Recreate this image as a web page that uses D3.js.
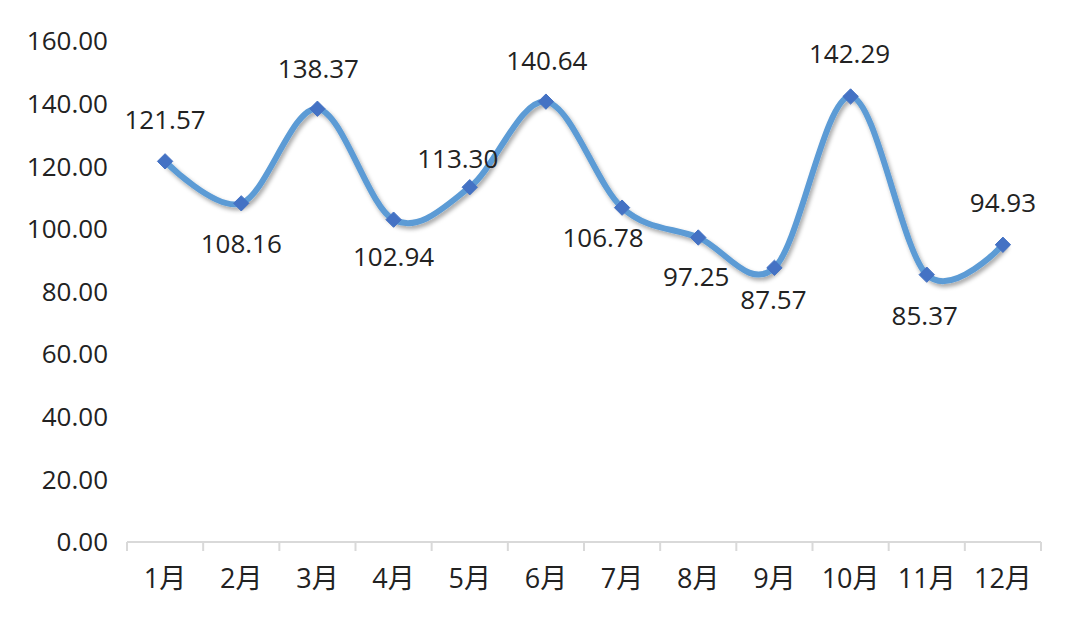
<!DOCTYPE html>
<html><head><meta charset="utf-8">
<script src="https://cdn.jsdelivr.net/npm/d3@7"></script>
<style>
html,body{margin:0;padding:0;background:#fff;}
svg{display:block;font-family:"Open Sans","Noto Sans CJK SC",sans-serif;}
</style></head>
<body>
<svg id="chart" width="1080" height="623"></svg>
<script>
const months = ["1月","2月","3月","4月","5月","6月","7月","8月","9月","10月","11月","12月"];
const values = [121.57,108.16,138.37,102.94,113.30,140.64,106.78,97.25,87.57,142.29,85.37,94.93];
const yTicks = [0,20,40,60,80,100,120,140,160];
// label placement (dx, dy from marker, px)
const labelOffsets = [[0,-42],[0,40],[1,-40],[0,37],[-12,-29],[1,-41],[-19,30],[-2,39],[-1,32],[-1,-43],[-2,41],[0,-42]];

const svg = d3.select("#chart");
const margin = {left:127, right:39, top:41, bottom:81};
const W = 1080, H = 623;
const x = d3.scaleBand().domain(months).range([margin.left, W - margin.right]).padding(0);
const y = d3.scaleLinear().domain([0,160]).range([H - margin.bottom, margin.top]);

const defs = svg.append("defs");
const f = defs.append("filter").attr("id","sh").attr("x","-10%").attr("y","-10%").attr("width","120%").attr("height","130%");
f.append("feDropShadow").attr("dx",2).attr("dy",3).attr("stdDeviation",2).attr("flood-color","#000").attr("flood-opacity",0.35);

// y axis labels
svg.append("g").selectAll("text").data(yTicks).join("text")
  .attr("x", 108).attr("y", d => y(d)).attr("dy","0.36em")
  .attr("text-anchor","end").attr("font-size",26).attr("fill","#222")
  .text(d => d.toFixed(2));

// x axis
const xAxis = svg.append("g").attr("transform",`translate(0,${y(0)})`);
xAxis.append("line").attr("x1",margin.left).attr("x2",W-margin.right).attr("stroke","#d9d9d9").attr("stroke-width",2);
const bounds = months.map(m => x(m)).concat([x(months[months.length-1]) + x.bandwidth()]);
xAxis.selectAll("line.t").data(bounds).join("line").attr("class","t")
  .attr("x1",d=>d).attr("x2",d=>d).attr("y1",0).attr("y2",9).attr("stroke","#d9d9d9").attr("stroke-width",2);
xAxis.selectAll("text").data(months).join("text")
  .attr("x", d => x(d) + x.bandwidth()/2).attr("y", 36)
  .attr("dy","0.36em")
  .attr("text-anchor","middle").attr("font-size",27).attr("fill","#222")
  .text(d => d);

const pts = months.map((m,i) => [x(m)+x.bandwidth()/2, y(values[i])]);
const line = d3.line().curve(d3.curveCatmullRom.alpha(0));
svg.append("path").attr("d", line(pts)).attr("fill","none")
  .attr("stroke","#5B9BD5").attr("stroke-width",6).attr("stroke-linecap","round")
  .attr("filter","url(#sh)");

const sym = d3.symbol().type(d3.symbolDiamond2).size(150);
svg.append("g").selectAll("path").data(pts).join("path")
  .attr("transform", d => `translate(${d[0]},${d[1]})`)
  .attr("d", sym).attr("fill","#4472C4").attr("stroke","#4472C4").attr("stroke-width",1);

svg.append("g").selectAll("text").data(values).join("text")
  .attr("x", (d,i) => pts[i][0] + labelOffsets[i][0])
  .attr("y", (d,i) => pts[i][1] + labelOffsets[i][1])
  .attr("dy","0.36em").attr("text-anchor","middle").attr("font-size",26).attr("fill","#222")
  .text(d => d.toFixed(2));
</script>
</body></html>
